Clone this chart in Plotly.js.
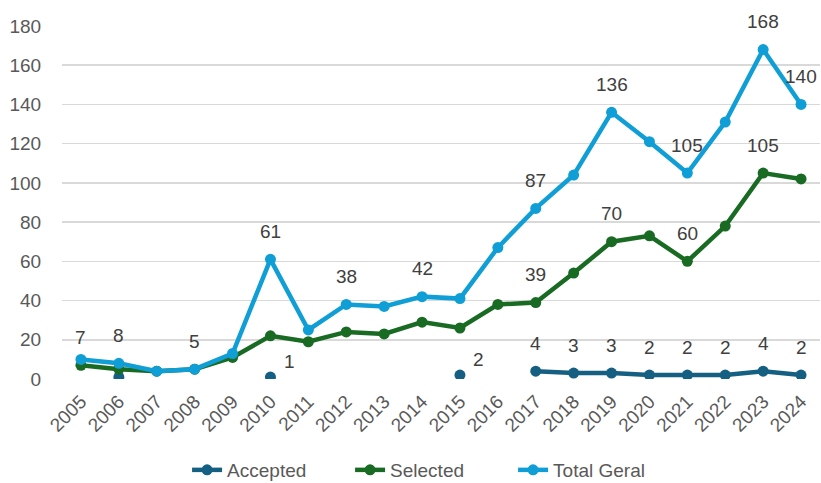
<!DOCTYPE html>
<html>
<head>
<meta charset="utf-8">
<script src="https://cdn.plot.ly/plotly-3.0.1.min.js"></script>
<style>html,body{margin:0;padding:0;background:#fff;}#chart{width:821px;height:483px;}</style>
</head>
<body>
<div id="chart"></div>
<script>
const years = ["2005","2006","2007","2008","2009","2010","2011","2012","2013","2014","2015","2016","2017","2018","2019","2020","2021","2022","2023","2024"];
const accepted = [null,1,null,null,null,1,null,null,null,null,2,null,4,3,3,2,2,2,4,2];
const selected = [7,5,4,5,11,22,19,24,23,29,26,38,39,54,70,73,60,78,105,102];
const totalGeral = [10,8,4,5,13,61,25,38,37,42,41,67,87,104,136,121,105,131,168,140];

const acceptedLabels = ["","","","","","1","","","","","2","","4","3","3","2","2","2","4","2"];
const selectedLabels = ["7","","","","","","","","","","","","39","","70","","60","","105",""];
const totalLabels = ["","8","","5","","61","","38","","42","","","87","","136","","105","","168","140"];

const C_ACC = "#156082", C_SEL = "#196B24", C_TOT = "#0F9ED5";
const FONT = "Liberation Sans, Arial, sans-serif";
const FS = 19;

function mk(name, y, color) {
  return {
    type: "scatter", mode: "lines+markers", name: name, x: years, y: y,
    connectgaps: false,
    line: {color: color, width: 4.5},
    marker: {color: color, size: 11},
    hoverinfo: "x+y"
  };
}
const traces = [mk("Accepted", accepted, C_ACC), mk("Selected", selected, C_SEL), mk("Total Geral", totalGeral, C_TOT)];

const annotations = [];
function addLabels(labels, values) {
  labels.forEach((t, i) => {
    if (!t) return;
    const isolated = (i === 0 || values[i-1] == null) && (i === values.length-1 || values[i+1] == null);
    annotations.push({
      xref: "x", yref: "y",
      x: i, y: values[i], text: t, showarrow: false,
      xanchor: "center", yanchor: "middle",
      xshift: isolated ? 19 : 0, yshift: isolated ? 16 : 28,
      font: {family: FONT, size: FS, color: "#404040"}
    });
  });
}
addLabels(acceptedLabels, accepted);
addLabels(selectedLabels, selected);
addLabels(totalLabels, totalGeral);

const layout = {
  width: 821, height: 483,
  margin: {l: 62, r: 1, t: 26, b: 104, autoexpand: false},
  paper_bgcolor: "#fff", plot_bgcolor: "#fff",
  font: {family: FONT, size: FS, color: "#595959"},
  showlegend: true,
  legend: {orientation: "h", x: 0.165, xanchor: "left", y: -0.204, yanchor: "top",
           entrywidth: 118, entrywidthmode: "pixels",
           font: {family: FONT, size: FS, color: "#595959"}, tracegroupgap: 0},
  xaxis: {type: "category", tickangle: -45, showgrid: false, zeroline: false, showline: false,
          automargin: false, ticks: "outside", ticklen: 3, tickcolor: "rgba(0,0,0,0)",
          tickfont: {family: FONT, size: FS, color: "#595959"}, range: [-0.5, 19.5]},
  yaxis: {range: [0, 180], dtick: 20, showgrid: true, gridcolor: "#d9d9d9", gridwidth: 1.5,
          automargin: false, zeroline: false, showline: false,
          ticks: "outside", ticklen: 16, tickcolor: "rgba(0,0,0,0)",
          tickfont: {family: FONT, size: FS, color: "#595959"}},
  annotations: annotations
};
Plotly.newPlot("chart", traces, layout, {displayModeBar: false, staticPlot: true});
</script>
</body>
</html>
